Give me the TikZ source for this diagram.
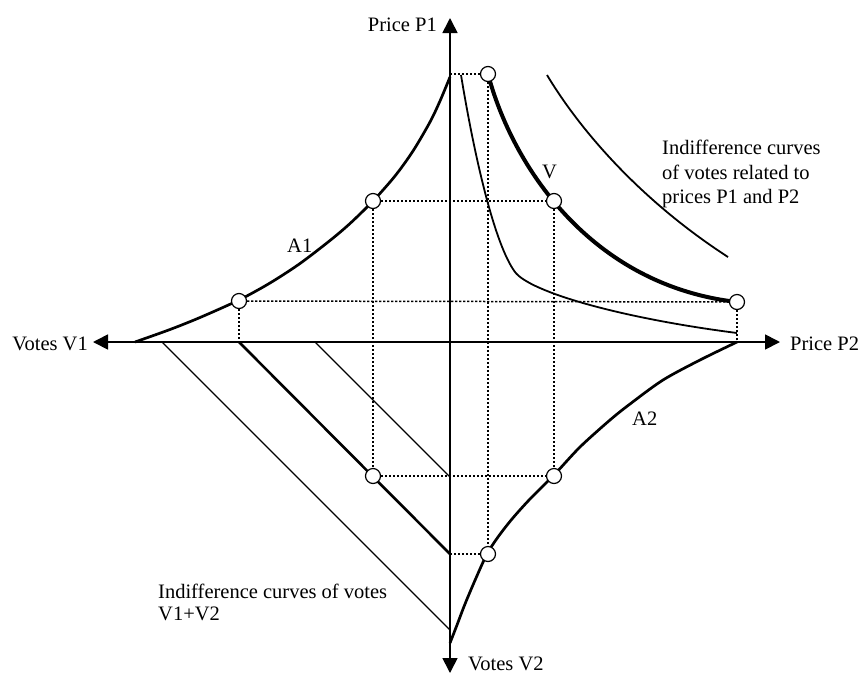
\documentclass[tikz,border=0pt]{standalone}
\usepackage{fontspec}
\setmainfont{Liberation Serif}
\usetikzlibrary{arrows.meta}
\begin{document}
\begin{tikzpicture}[x=1pt,y=-1pt,
  axis/.style={line width=1.7pt},
  tipboth/.style={{Triangle[length=15pt,width=15pt]}-{Triangle[length=15pt,width=15pt]}},
  curveA/.style={line width=2.7pt},
  curveV/.style={line width=4pt},
  curvethin/.style={line width=1.8pt},
  diagthin/.style={line width=1.2pt},
  diagthick/.style={line width=2.6pt},
  dotline/.style={line width=1.5pt, dash pattern=on 2.4pt off 1.6pt},
  circ/.style={circle, draw, fill=white, inner sep=0pt, minimum size=15pt, line width=1.2pt},
  lbl/.style={font=\fontsize{20.5}{24.5}\selectfont, inner sep=0pt},
]
\useasboundingbox (0,0) rectangle (865,673);

% key points
\coordinate (O) at (450,342);
\coordinate (xl) at (93,342);
\coordinate (xr) at (780,342);
\coordinate (yt) at (450,18);
\coordinate (yb) at (450,673);
\coordinate (T0) at (450,74);
\coordinate (P1) at (488,74);
\coordinate (PV) at (554,201);
\coordinate (P3) at (737,302);
\coordinate (P3b) at (737,342);
\coordinate (Q1) at (373,201);
\coordinate (Q2) at (239,301);
\coordinate (Q2b) at (239,342);
\coordinate (R1) at (554,476);
\coordinate (R2) at (488,554);
\coordinate (D1) at (373,476);
\coordinate (S0) at (450,554);
\coordinate (M0) at (450,477);
\coordinate (d1s) at (162,342);
\coordinate (d1e) at (450,630);
\coordinate (d3s) at (315,342);

% dotted construction lines
\draw[dotline] (Q2) -- (P3);
\draw[dotline] (Q2) -- (Q2b);
\draw[dotline] (P3) -- (P3b);
\draw[dotline] (Q1) -- (PV);
\draw[dotline] (Q1) -- (D1);
\draw[dotline] (PV) -- (R1);
\draw[dotline] (D1) -- (R1);
\draw[dotline] (T0) -- (P1);
\draw[dotline] (P1) -- (R2);
\draw[dotline] (S0) -- (R2);

% axes
\draw[axis, tipboth] (xl) -- (xr);
\draw[axis, tipboth] (yt) -- (yb);

% curve A1
\draw[curveA] plot[smooth, tension=0.5] coordinates {(135,342) (170,329.5) (200,317.5) (239,300) (270,283) (300,263.5) (330,240.5) (350,223.5) (373,201) (395,176) (413,151) (430,122) (440,101) (450,77)};
% curve A2
\draw[curveA] plot[smooth, tension=0.5] coordinates {(737,342) (700,360) (663,380) (630,404) (610,420) (580,447) (554,475) (530,499) (512,519) (498,537) (487,554) (476,578) (465,604) (457,625) (450,643)};

% indifference curves of votes related to prices
\draw[curveV] (P1) .. controls (512,165) and (590,285) .. (P3);
\draw[curvethin] (461,75) .. controls (475,160) and (495,245) .. (515,272)
                 .. controls (530,292) and (620,318) .. (737,333);
\draw[curvethin] (547,75) .. controls (580,130) and (640,200) .. (728,257);

% indifference lines V1+V2
\draw[diagthin] (d1s) -- (d1e);
\draw[diagthick] (Q2b) -- (S0);
\draw[diagthin] (d3s) -- (M0);

% circles
\node[circ] (cP1) at (P1) {};
\node[circ] (cPV) at (PV) {};
\node[circ] (cP3) at (P3) {};
\node[circ] (cQ1) at (Q1) {};
\node[circ] (cQ2) at (Q2) {};
\node[circ] (cR1) at (R1) {};
\node[circ] (cR2) at (R2) {};
\node[circ] (cD1) at (D1) {};

% labels
\node[lbl, anchor=base east] (lP1) at (437,31) {Price P1};
\node[lbl, anchor=base east] (lV1) at (88,350) {Votes V1};
\node[lbl, anchor=base west] (lP2) at (790,350) {Price P2};
\node[lbl, anchor=base west] (lV2) at (468,670) {Votes V2};
\node[lbl, anchor=base west] (lA1) at (287,252) {A1};
\node[lbl, anchor=base west] (lA2) at (632,425) {A2};
\node[lbl, anchor=base west] (lV) at (542,178) {V};
\node[lbl, anchor=north west, align=left] (lIP) at (662,140) {Indifference curves\\of votes related to\\prices P1 and P2};
\node[lbl, anchor=north west, align=left, font=\fontsize{20.5}{22}\selectfont] (lIV) at (158,584) {Indifference curves of votes\\V1+V2};
\end{tikzpicture}
\end{document}
